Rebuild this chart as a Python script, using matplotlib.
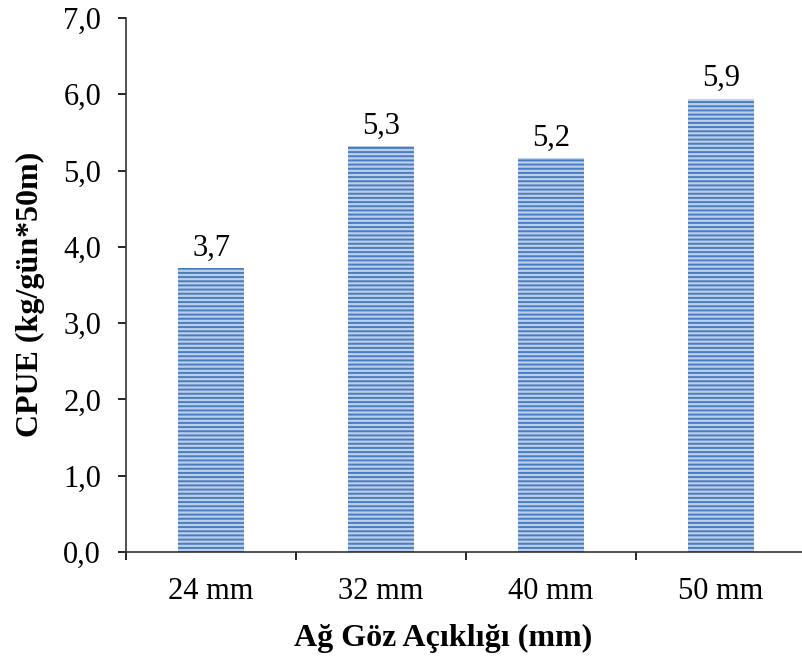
import matplotlib
matplotlib.use("Agg")
import matplotlib.pyplot as plt

categories = ["24 mm", "32 mm", "40 mm", "50 mm"]
values = [3.72, 5.32, 5.16, 5.94]
value_labels = ["3,7", "5,3", "5,2", "5,9"]
yticks = [0, 1, 2, 3, 4, 5, 6, 7]
ytick_labels = ["0,0", "1,0", "2,0", "3,0", "4,0", "5,0", "6,0", "7,0"]

plt.rcParams['font.family'] = ['Liberation Serif', 'DejaVu Serif']
plt.rcParams['hatch.linewidth'] = 1.4

fig = plt.figure(figsize=(8.02, 6.66), dpi=100)
W, H = 802, 666
ax = fig.add_axes([126 / W, 114 / H, 680 / W, 534 / H])

x = list(range(len(categories)))
bars = ax.bar(x, values, width=0.385, color="#bccfea", edgecolor="#4a7cc0",
              linewidth=0, hatch="----")

for xi, v, lab in zip(x, values, value_labels):
    ax.annotate(lab, (xi, v), xytext=(0, 4), textcoords="offset points",
                ha="center", va="bottom", fontsize=22)

ax.set_xlim(-0.5, 3.5)
ax.set_ylim(0, 7)
ax.set_yticks(yticks)
ax.set_yticklabels(ytick_labels, fontsize=22)
ax.set_xticks(x)
ax.set_xticklabels(categories, fontsize=22)
ax.set_xticks([-0.5, 0.5, 1.5, 2.5, 3.5], minor=True)
ax.tick_params(axis='x', which='major', length=0, pad=18)
ax.tick_params(axis='x', which='minor', length=6, width=1.2, direction='out')
ax.tick_params(axis='y', length=6, width=1.2, direction='out', pad=12)

for s in ['top', 'right']:
    ax.spines[s].set_visible(False)
for s in ['left', 'bottom']:
    ax.spines[s].set_linewidth(1.2)
    ax.spines[s].set_color('#333333')

ax.set_ylabel("CPUE (kg/gün*50m)", fontsize=23, fontweight='bold')
ax.set_xlabel("Ağ Göz Açıklığı (mm)", fontsize=23, fontweight='bold')
ax.yaxis.set_label_coords(-81 / 680, 0.483)
ax.xaxis.set_label_coords(0.467, -72 / 534)

fig.savefig("out.png", dpi=100)
